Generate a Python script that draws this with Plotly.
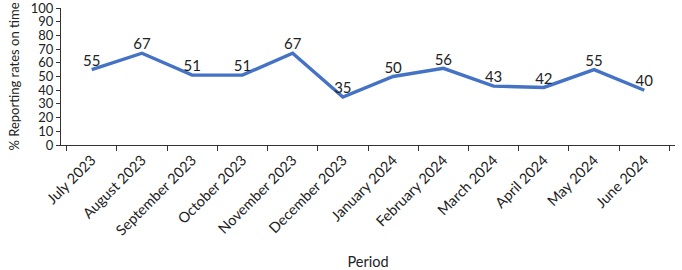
import plotly.graph_objects as go

periods = ["July 2023", "August 2023", "September 2023", "October 2023", "November 2023",
           "December 2023", "January 2024", "February 2024", "March 2024", "April 2024",
           "May 2024", "June 2024"]
rates = [55, 67, 51, 51, 67, 35, 50, 56, 43, 42, 55, 40]

fig = go.Figure(go.Scatter(
    x=periods, y=rates, mode="lines+text",
    text=[str(v) for v in rates], textposition="top center",
    textfont=dict(size=15, color="#222222", family="Lato"),
    line=dict(color="#4472C4", width=3.4),
    cliponaxis=False, hoverinfo="skip",
))

fig.update_layout(
    width=682, height=270,
    margin=dict(l=61, r=7, t=8, b=125, autoexpand=False),
    plot_bgcolor="white", paper_bgcolor="white",
    font=dict(family="Lato", size=13, color="#222222"),
    showlegend=False,
    xaxis=dict(
        type="category", tickson="boundaries", ticks="outside", ticklen=5,
        tickcolor="#333333", showline=True, linecolor="#333333", linewidth=1,
        tickangle=-45, showgrid=False, tickfont=dict(size=14.5), automargin=False,
        title=dict(text="Period", font=dict(size=14.5), standoff=20),
    ),
    yaxis=dict(
        range=[0, 100], dtick=10, ticks="outside", ticklen=4, tickcolor="#333333",
        showline=True, linecolor="#333333", linewidth=1, showgrid=False, zeroline=False,
        tickfont=dict(size=13), automargin=False, ticklabeloverflow="allow",
        title=dict(text="% Reporting rates on time", font=dict(size=13), standoff=8),
    ),
)

fig.write_html("out.html", config={"displayModeBar": False, "staticPlot": True},
               post_script="document.body.style.margin='0';")
